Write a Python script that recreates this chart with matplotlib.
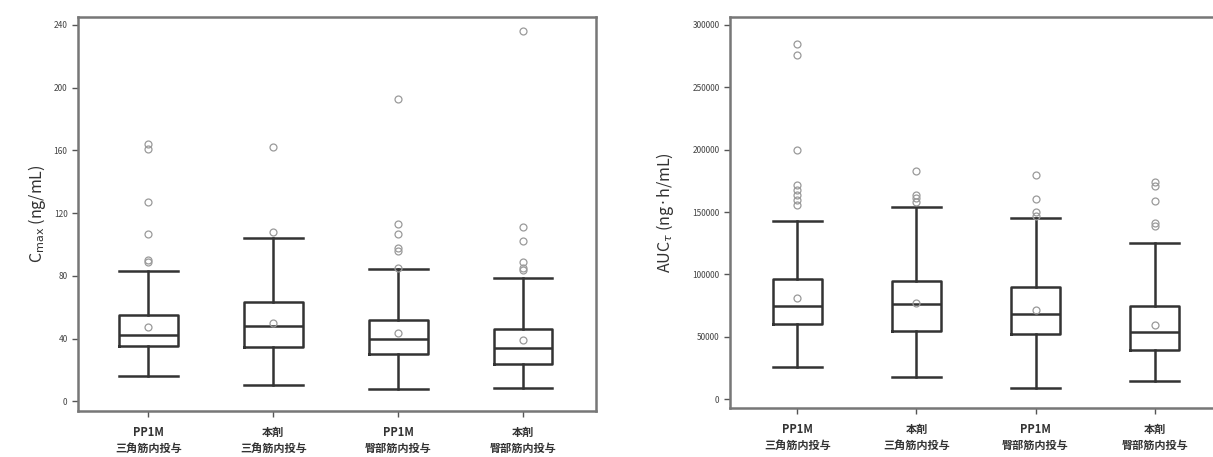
import matplotlib
matplotlib.use("Agg")
import matplotlib.pyplot as plt

plt.rcParams['font.family'] = ['Noto Sans CJK JP', 'DejaVu Sans']

categories = ["PP1M\n三角筋内投与", "本剤\n三角筋内投与", "PP1M\n臀部筋内投与", "本剤\n臀部筋内投与"]

# Cmax (ng/mL)
cmax_whislo = [16.4, 10.4, 7.7, 8.5]
cmax_q1 = [35.3, 34.5, 30.0, 23.8]
cmax_med = [42.1, 48.3, 39.8, 34.0]
cmax_q3 = [55.1, 63.2, 52.1, 46.4]
cmax_whishi = [83.2, 104.3, 84.3, 78.7]
cmax_mean = [47.2, 50.0, 43.4, 39.1]
cmax_fliers = [
    [89, 90, 107, 127, 161, 164],
    [108, 162],
    [85, 96, 98, 107, 113, 193],
    [84, 85, 89, 102, 111, 236],
]
cmax_ticks = [0, 40, 80, 120, 160, 200, 240]

# AUCtau (ng·h/mL)
auc_whislo = [26000, 17700, 9100, 14500]
auc_q1 = [59800, 54400, 52300, 39100]
auc_med = [74500, 76100, 68100, 53900]
auc_q3 = [96000, 94600, 89800, 74800]
auc_whishi = [142700, 153700, 145000, 125500]
auc_mean = [81200, 77200, 71800, 59500]
auc_fliers = [
    [156000, 160000, 164000, 168000, 172000, 200000, 276000, 284500],
    [158000, 161000, 164000, 182500],
    [147000, 150000, 160600, 179300],
    [139000, 141000, 159000, 171000, 174000],
]
auc_ticks = [0, 50000, 100000, 150000, 200000, 250000, 300000]

line_col = '#333333'
flier_col = '#9a9a9a'
mean_col = '#999999'


def make_stats(lo, q1, med, q3, hi, mean, fl):
    return [dict(whislo=lo[i], q1=q1[i], med=med[i], q3=q3[i], whishi=hi[i],
                 mean=mean[i], fliers=fl[i]) for i in range(len(lo))]


fig = plt.figure(figsize=(12.13, 4.57), dpi=100)
ax1 = fig.add_axes([0.0643, 0.1007, 0.4270, 0.8621])
ax2 = fig.add_axes([0.6018, 0.1072, 0.4056, 0.8556])


def draw(ax, stats, width, ylim, xlim, ticks, ylabel, lpad):
    pos = list(range(1, len(stats) + 1))
    lp = dict(color=line_col, linewidth=1.8)
    ax.bxp(stats, positions=pos, widths=width, showmeans=True, showfliers=True,
           boxprops=lp, whiskerprops=lp, capprops=lp,
           medianprops=dict(color=line_col, linewidth=1.8),
           capwidths=width,
           flierprops=dict(marker='o', markersize=5, markerfacecolor='none',
                           markeredgecolor=flier_col, markeredgewidth=0.9),
           meanprops=dict(marker='o', markersize=5, markerfacecolor='none',
                          markeredgecolor=mean_col, markeredgewidth=0.9))
    ax.set_xlim(*xlim)
    ax.set_ylim(*ylim)
    ax.set_yticks(ticks)
    ax.set_yticklabels([str(t) for t in ticks], fontsize=6, color='#444444')
    ax.set_xticks(pos)
    ax.set_xticklabels(categories, fontsize=8, color='#333333', linespacing=1.25,
                       fontweight='bold')
    ax.tick_params(axis='both', direction='out', length=4, width=1, color='#555555')
    ax.tick_params(axis='x', pad=7)
    for s in ax.spines.values():
        s.set_color('#777777')
        s.set_linewidth(1.8)
    ax.set_ylabel(ylabel, fontsize=11.5, color='#333333', labelpad=lpad)


draw(ax1, make_stats(cmax_whislo, cmax_q1, cmax_med, cmax_q3, cmax_whishi, cmax_mean, cmax_fliers),
     0.47, (-6.2, 245.1), (0.436, 4.584), cmax_ticks, r'C$_{\mathrm{max}}$ (ng/mL)', 4)
draw(ax2, make_stats(auc_whislo, auc_q1, auc_med, auc_q3, auc_whishi, auc_mean, auc_fliers),
     0.41, (-7200, 306400), (0.435, 4.565), auc_ticks, r'AUC$_{\tau}$ (ng·h/mL)', 12)

fig.savefig('out.png', dpi=100)
